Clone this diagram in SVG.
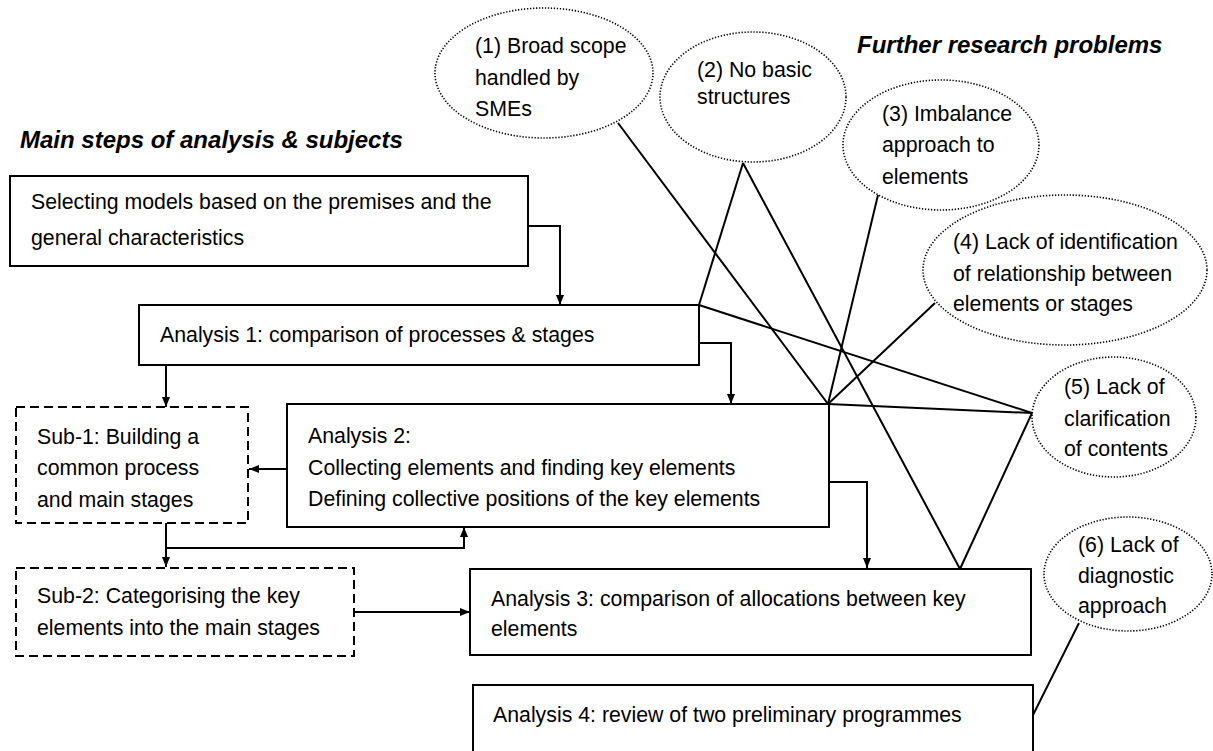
<svg xmlns="http://www.w3.org/2000/svg" width="1213" height="751" viewBox="0 0 1213 751">
  <style>
    .box { fill: #fff; stroke: #000; stroke-width: 2; }
    .sub { fill: #fff; stroke: #000; stroke-width: 2; stroke-dasharray: 9 5; }
    .prob { fill: none; stroke: #000; stroke-width: 1.6; stroke-dasharray: 1.3 1.7; }
    .t { font-family: "Liberation Sans", Arial, sans-serif; font-size: 21.3px; fill: #000; }
    .title { font-family: "Liberation Sans", Arial, sans-serif; font-size: 24px; font-weight: bold; font-style: italic; fill: #000; }
    .flow { fill: none; stroke: #000; stroke-width: 2; marker-end: url(#arrow); }
    .link { fill: none; stroke: #000; stroke-width: 2; }
  </style>
  <defs>
    <marker id="arrow" viewBox="0 0 10 8" refX="10" refY="4" markerWidth="10" markerHeight="8" markerUnits="userSpaceOnUse" orient="auto">
      <path d="M0,0 L10,4 L0,8 z" fill="#000"/>
    </marker>
  </defs>
  <rect width="1213" height="751" fill="#fff"/>

  <!-- headings -->
  <text class="title" x="20" y="148">Main steps of analysis &amp; subjects</text>
  <text class="title" x="857" y="53">Further research problems</text>

  <!-- connectors -->
  <g id="connectors">
    <path class="flow" d="M528,226 H560 V305"/>
    <path class="flow" d="M166,365 V407"/>
    <path class="flow" d="M699,343 H731 V404"/>
    <path class="flow" d="M287,469 H249"/>
    <path class="flow" d="M166,523 V567"/>
    <path class="flow" d="M166,548 H464 V527"/>
    <path class="flow" d="M354,612 H470"/>
    <path class="flow" d="M829,482 H867 V568"/>
    <path class="link" d="M618,123 L828,404"/>
    <path class="link" d="M743,163 L699,305"/>
    <path class="link" d="M743,163 L960,569"/>
    <path class="link" d="M878,195 L828,404"/>
    <path class="link" d="M935,303 L828,404"/>
    <path class="link" d="M699,305 L1032,413"/>
    <path class="link" d="M828,404 L1032,413"/>
    <path class="link" d="M1032,413 L960,569"/>
    <path class="link" d="M1033,715 L1079,623"/>
  </g>

  <!-- analysis steps -->
  <g id="selecting">
    <rect class="box" x="10" y="176" width="518" height="90"/>
    <text class="t" x="31" y="209">Selecting models based on the premises and the</text>
    <text class="t" x="31" y="245">general characteristics</text>
  </g>
  <g id="analysis1">
    <rect class="box" x="139" y="305" width="560" height="60"/>
    <text class="t" x="160" y="342">Analysis 1: comparison of processes &amp; stages</text>
  </g>
  <g id="sub1">
    <rect class="sub" x="16" y="407" width="232" height="116"/>
    <text class="t" x="37" y="444">Sub-1: Building a</text>
    <text class="t" x="37" y="475">common process</text>
    <text class="t" x="37" y="507">and main stages</text>
  </g>
  <g id="analysis2">
    <rect class="box" x="287" y="404" width="542" height="123"/>
    <text class="t" x="308" y="443">Analysis 2:</text>
    <text class="t" x="308" y="475">Collecting elements and finding key elements</text>
    <text class="t" x="308" y="506">Defining collective positions of the key elements</text>
  </g>
  <g id="sub2">
    <rect class="sub" x="16" y="568" width="338" height="88"/>
    <text class="t" x="37" y="603">Sub-2: Categorising the key</text>
    <text class="t" x="37" y="635">elements into the main stages</text>
  </g>
  <g id="analysis3">
    <rect class="box" x="470" y="569" width="561" height="86"/>
    <text class="t" x="491" y="606">Analysis 3: comparison of allocations between key</text>
    <text class="t" x="491" y="636">elements</text>
  </g>
  <g id="analysis4">
    <rect class="box" x="473" y="685" width="560" height="80"/>
    <text class="t" x="493" y="722">Analysis 4: review of two preliminary programmes</text>
  </g>

  <!-- research problems -->
  <g id="problem1">
    <ellipse class="prob" cx="544" cy="73" rx="109" ry="65"/>
    <text class="t" x="475" y="53">(1) Broad scope</text>
    <text class="t" x="475" y="85">handled by</text>
    <text class="t" x="475" y="116">SMEs</text>
  </g>
  <g id="problem2">
    <ellipse class="prob" cx="753" cy="97" rx="93" ry="65"/>
    <text class="t" x="697" y="77">(2) No basic</text>
    <text class="t" x="697" y="104">structures</text>
  </g>
  <g id="problem3">
    <ellipse class="prob" cx="941" cy="145" rx="98" ry="65"/>
    <text class="t" x="882" y="121">(3) Imbalance</text>
    <text class="t" x="882" y="152">approach to</text>
    <text class="t" x="882" y="184">elements</text>
  </g>
  <g id="problem4">
    <ellipse class="prob" cx="1065" cy="270" rx="142" ry="75"/>
    <text class="t" x="953" y="249">(4) Lack of identification</text>
    <text class="t" x="953" y="281">of relationship between</text>
    <text class="t" x="953" y="311">elements or stages</text>
  </g>
  <g id="problem5">
    <ellipse class="prob" cx="1114" cy="417" rx="82" ry="60"/>
    <text class="t" x="1064" y="394">(5) Lack of</text>
    <text class="t" x="1064" y="426">clarification</text>
    <text class="t" x="1064" y="456">of contents</text>
  </g>
  <g id="problem6">
    <ellipse class="prob" cx="1128" cy="574" rx="84" ry="57"/>
    <text class="t" x="1078" y="552">(6) Lack of</text>
    <text class="t" x="1078" y="583">diagnostic</text>
    <text class="t" x="1078" y="613">approach</text>
  </g>
</svg>
